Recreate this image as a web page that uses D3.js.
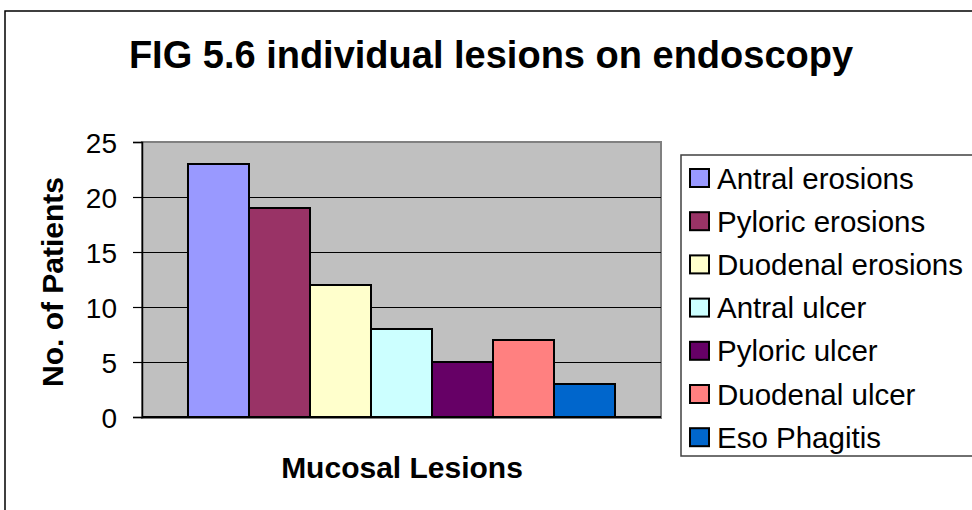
<!DOCTYPE html>
<html>
<head>
<meta charset="utf-8">
<script src="https://cdn.jsdelivr.net/npm/d3@7"></script>
<style>
  html, body { margin: 0; padding: 0; background: #fff; }
  svg { display: block; }
  text { font-family: Arial, "Liberation Sans", sans-serif; fill: #000; }
</style>
</head>
<body>
<svg id="chart" width="972" height="510"></svg>
<script>
// Lesion types found on endoscopy and patient counts
const lesions = ["Antral erosions", "Pyloric erosions", "Duodenal erosions", "Antral ulcer",
                 "Pyloric ulcer", "Duodenal ulcer", "Eso Phagitis"];
const patients = [23, 19, 12, 8, 5, 7, 3];
const colors = ["#9999FF", "#993366", "#FFFFCC", "#CCFFFF", "#660066", "#FF8080", "#0066CC"];
const yTicks = [0, 5, 10, 15, 20, 25];

const svg = d3.select("#chart");

// outer chart frame
svg.append("rect")
  .attr("x", 5).attr("y", 11).attr("width", 1000).attr("height", 600)
  .attr("fill", "#fff").attr("stroke", "#000").attr("stroke-width", 1.5);

// plot area
const plot = { left: 142, top: 142, right: 661, bottom: 417 };
const pw = plot.right - plot.left, ph = plot.bottom - plot.top;

const y = d3.scaleLinear().domain([0, 25]).range([plot.bottom, plot.top]);
const x = d3.scaleBand().domain(lesions).range([plot.left, plot.right])
  .paddingInner(0).paddingOuter(0.754);

svg.append("rect")
  .attr("x", plot.left).attr("y", plot.top).attr("width", pw).attr("height", ph + 1)
  .attr("fill", "#C0C0C0").attr("stroke", "#808080").attr("stroke-width", 2);

// horizontal gridlines
svg.append("g").selectAll("line")
  .data(yTicks.filter(t => t > 0 && t < 25))
  .join("line")
  .attr("x1", plot.left).attr("x2", plot.right)
  .attr("y1", d => Math.round(y(d)) + 0.5).attr("y2", d => Math.round(y(d)) + 0.5)
  .attr("stroke", "#000").attr("stroke-width", 1);

// bars
svg.append("g").selectAll("rect")
  .data(lesions.map((name, i) => ({ name, value: patients[i], color: colors[i] })))
  .join("rect")
  .attr("x", d => x(d.name))
  .attr("y", d => y(d.value))
  .attr("width", x.bandwidth())
  .attr("height", d => y(0) - y(d.value))
  .attr("fill", d => d.color)
  .attr("stroke", "#000").attr("stroke-width", 2);

// y axis
const yAxis = d3.axisLeft(y).tickValues(yTicks).tickSize(9).tickPadding(16).tickFormat(d3.format("d"));
const gy = svg.append("g").attr("transform", `translate(${plot.left},0)`).call(yAxis);
gy.select(".domain").attr("stroke", "#000").attr("stroke-width", 1.5);
gy.selectAll(".tick line").attr("stroke", "#000").attr("stroke-width", 1.2);
gy.selectAll(".tick text")
  .style("font-family", "Arial, 'Liberation Sans', sans-serif")
  .style("font-size", "28px").attr("fill", "#000").attr("dy", "0.36em");

// x axis baseline
svg.append("line")
  .attr("x1", plot.left).attr("x2", plot.right)
  .attr("y1", plot.bottom).attr("y2", plot.bottom)
  .attr("stroke", "#000").attr("stroke-width", 2);

// titles
svg.append("text")
  .attr("x", 491).attr("y", 68).attr("text-anchor", "middle")
  .style("font-size", "38px").style("font-weight", "bold")
  .text("FIG 5.6 individual lesions on endoscopy");

svg.append("text")
  .attr("transform", "translate(63,282) rotate(-90)")
  .attr("text-anchor", "middle")
  .style("font-size", "30px").style("font-weight", "bold")
  .text("No. of Patients");

svg.append("text")
  .attr("x", 402).attr("y", 478).attr("text-anchor", "middle")
  .style("font-size", "30px").style("font-weight", "bold")
  .text("Mucosal Lesions");

// legend
const legend = svg.append("g");
legend.append("rect")
  .attr("x", 681).attr("y", 155).attr("width", 400).attr("height", 301)
  .attr("fill", "#fff").attr("stroke", "#404040").attr("stroke-width", 1.5);

const rowH = 43.2, firstRow = 178;
const items = legend.selectAll("g.item")
  .data(lesions.map((name, i) => ({ name, color: colors[i] })))
  .join("g").attr("class", "item")
  .attr("transform", (d, i) => `translate(690,${firstRow + i * rowH})`);

items.append("rect")
  .attr("x", 0).attr("y", -9).attr("width", 19).attr("height", 18)
  .attr("fill", d => d.color).attr("stroke", "#000").attr("stroke-width", 2);

items.append("text")
  .attr("x", 27).attr("y", 0).attr("dy", "0.36em")
  .style("font-size", "29.5px")
  .text(d => d.name);
</script>
</body>
</html>
